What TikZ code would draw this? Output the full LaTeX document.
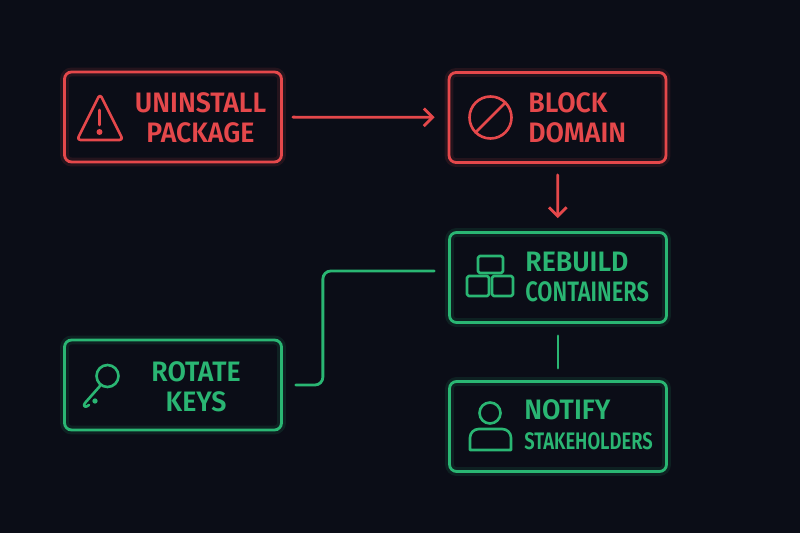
\documentclass[tikz,border=0pt]{standalone}
\usepackage{fontspec}
\setmainfont{Fira Sans}[BoldFont = {* SemiBold}, FakeStretch = 0.95]
\usetikzlibrary{arrows.meta, positioning, calc}

\definecolor{bg}{HTML}{0B0D17}
\definecolor{alert}{HTML}{E5484B}
\definecolor{safe}{HTML}{2AB673}

\newcommand{\stepfont}{\fontsize{16}{17}\selectfont\bfseries}
\newfontfamily\narrowfont{Fira Sans}[BoldFont = {* SemiBold}, FakeStretch = 0.78]
\newfontfamily\tightfont{Fira Sans}[BoldFont = {* SemiBold}, FakeStretch = 0.77]

\tikzset{
	stepbox/.style = {draw, rounded corners = 4pt, line width = 1.6pt,
		minimum width = 4.34cm, minimum height = 1.8cm, inner sep = 0pt,
		preaction = {draw, line width = 5pt, opacity = 0.12}},
	redbox/.style = {stepbox, alert},
	greenbox/.style = {stepbox, safe},
	steptext/.style = {font = \stepfont, inner sep = 0pt, align = #1},
	steptext/.default = center,
	icon/.style = {line width = 1.5pt, line cap = round, line join = round},
	link/.style = {line width = 1.6pt, line cap = round}
}

\begin{document}
\begin{tikzpicture}[x = 0.02cm, y = -0.02cm, > = {Straight Barb[length = 5pt, width = 10pt, line width = 1.6pt]}]

	% Background
	
	\fill [bg] (0, 0) rectangle (800, 533);
	\useasboundingbox (0, 0) rectangle (800, 533);
	
	% Steps
	
	\node [redbox] (pkg) at (173, 117) {};
	\node [redbox] (dom) at (557.5, 117.5) {};
	\node [greenbox] (ctr) at (558, 277.5) {};
	\node [greenbox] (keys) at (173, 385) {};
	\node [greenbox] (notify) at (558, 426.5) {};
	
	% Labels
	
	\node [steptext, text = alert] (pkg text) at (200.5, 118) {UNINSTALL\\PACKAGE};
	\node [steptext = left, text = alert, anchor = west] (dom text) at (528, 118) {BLOCK\\DOMAIN};
	\node [steptext = left, text = safe, anchor = west] (ctr text) at (525, 277) {REBUILD\\{\narrowfont CONTAINERS}};
	\node [steptext, text = safe] (keys text) at (196, 387) {ROTATE\\KEYS};
	\node [steptext = left, text = safe, anchor = west] (notify text) at (524, 425) {NOTIFY\\{\tightfont\fontsize{13.6}{17}\selectfont STAKEHOLDERS}};
	
	% Icons
	
	\begin{scope} [shift = {(pkg.center)}, alert, icon]
		\draw [rounded corners = 2pt] (-73, -23) -- (-96, 23) -- (-50, 23) -- cycle;
		\draw (-73.5, -7) -- (-73.5, 8);
		\fill (-73.5, 15) circle (1.7pt);
	\end{scope}
	
	\begin{scope} [shift = {(dom.center)}, alert, icon]
		\draw (-67, 0) circle (0.42cm);
		\draw (-52, -15) -- (-82, 15);
	\end{scope}
	
	\begin{scope} [shift = {(ctr.center)}, safe, icon]
		\draw [rounded corners = 1pt] (-80, -21.5) rectangle (-55, -4.5);
		\draw [rounded corners = 1pt] (-91, -1.5) rectangle (-69, 18.5);
		\draw [rounded corners = 1pt] (-66, -1.5) rectangle (-45, 18.5);
	\end{scope}
	
	\begin{scope} [shift = {(keys.center)}, safe, icon]
		\draw (-65.5, -9) circle (0.22cm);
		\draw (-73, 1) -- (-88, 18) .. controls (-91, 21.5) and (-87, 23) .. (-84, 20);
		\fill (-78, 16) circle (1.5pt);
	\end{scope}
	
	\begin{scope} [shift = {(notify.center)}, safe, icon]
		\draw (-68, -13.5) circle (0.21cm);
		\draw (-88, 23.5) [rounded corners = 5pt] -- (-88, 2.5) -- (-47, 2.5) [sharp corners] -- (-47, 23.5) -- cycle;
	\end{scope}
	
	% Connectors
	
	\draw [link, alert, ->, shorten <= 0.2cm, shorten >= 0.26cm] (pkg) -- (dom);
	\draw [link, alert, ->, shorten <= 0.22cm, shorten >= 0.26cm] (dom) -- (ctr);
	\draw [link, safe, shorten <= 0.24cm, shorten >= 0.24cm] (ctr) -- (notify);
	\draw [link, safe, rounded corners = 4.5pt] ([shift = {(-14, -6.5)}] ctr.west) -| ([shift = {(40, 0)}] keys.east) -- ([shift = {(13, 0)}] keys.east);
	
\end{tikzpicture}
\end{document}
